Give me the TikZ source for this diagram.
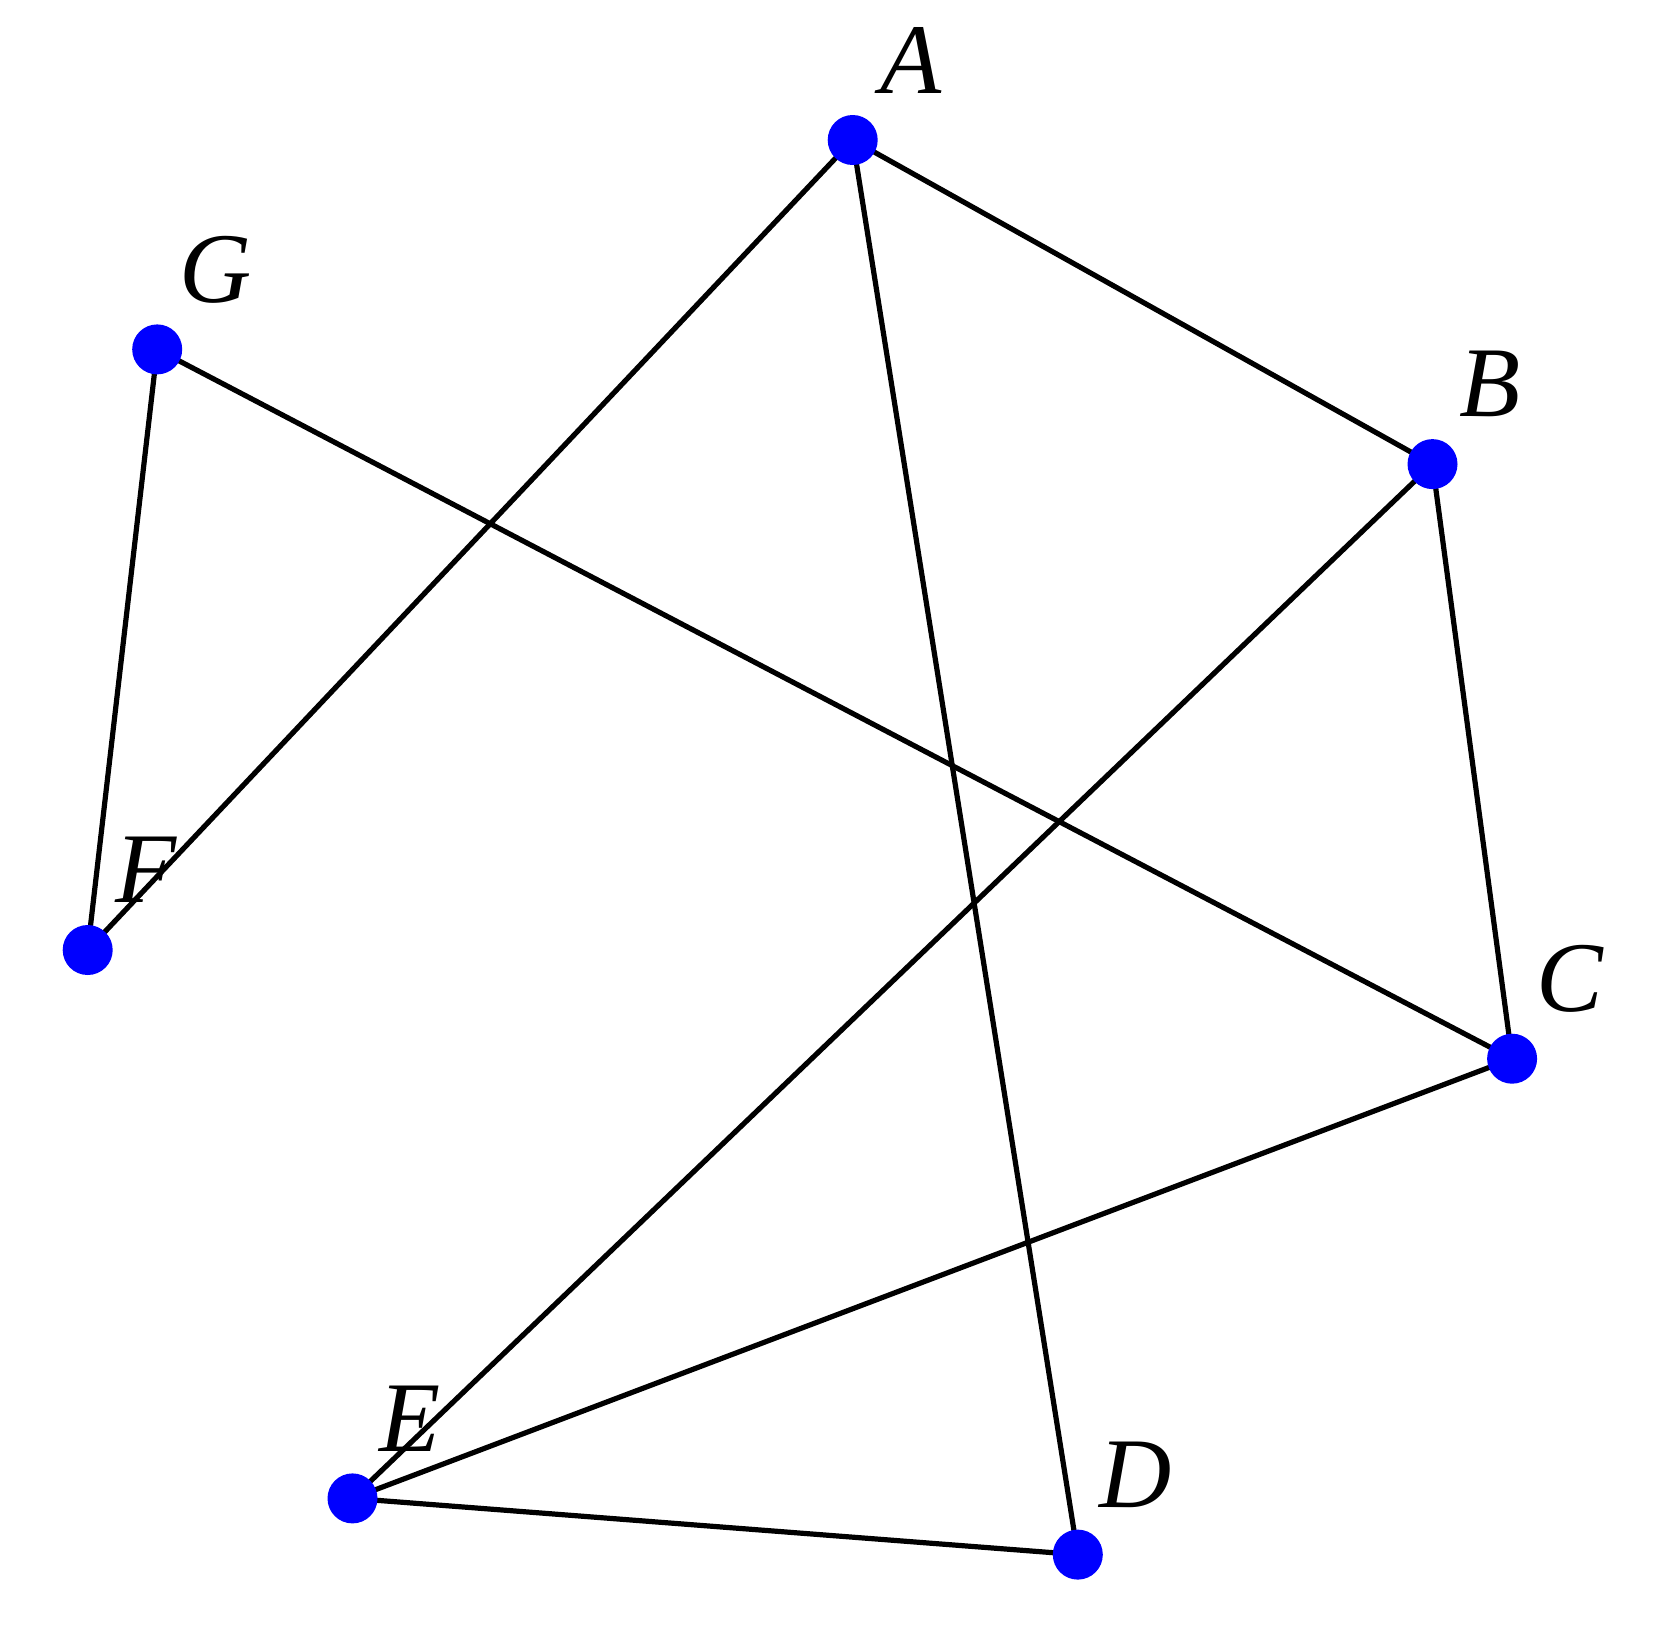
\documentclass[tikz,border=0pt]{standalone}
\usepackage{fontspec}
\setmainfont{Liberation Serif}
\begin{document}
\begin{tikzpicture}[x=0.5pt,y=-0.5pt,
  vdot/.style={circle,fill=blue,inner sep=0pt,minimum size=25pt},
  vlabel/.style={inner sep=0pt,font=\fontsize{50}{60}\selectfont\itshape},
  edge/.style={line width=2.6pt,black}]
\useasboundingbox (0,0) rectangle (1665,1633);
\coordinate (pA) at (852.7,140);
\coordinate (pB) at (1432.5,464.1);
\coordinate (pC) at (1512.1,1058.7);
\coordinate (pD) at (1077.8,1554.6);
\coordinate (pE) at (352.5,1498.4);
\coordinate (pF) at (87.7,950);
\coordinate (pG) at (157.2,349.4);
\foreach \n in {A,B,C,D,E,F,G}{
  \node[vlabel] (l\n) at ([shift={(58,-80)}]p\n) {\n};
}
\draw[edge] (pA) -- (pB);
\draw[edge] (pA) -- (pF);
\draw[edge] (pA) -- (pD);
\draw[edge] (pG) -- (pF);
\draw[edge] (pG) -- (pC);
\draw[edge] (pB) -- (pC);
\draw[edge] (pB) -- (pE);
\draw[edge] (pC) -- (pE);
\draw[edge] (pE) -- (pD);
\foreach \n in {A,B,C,D,E,F,G}{
  \node[vdot] (\n) at (p\n) {};
}
\end{tikzpicture}
\end{document}
